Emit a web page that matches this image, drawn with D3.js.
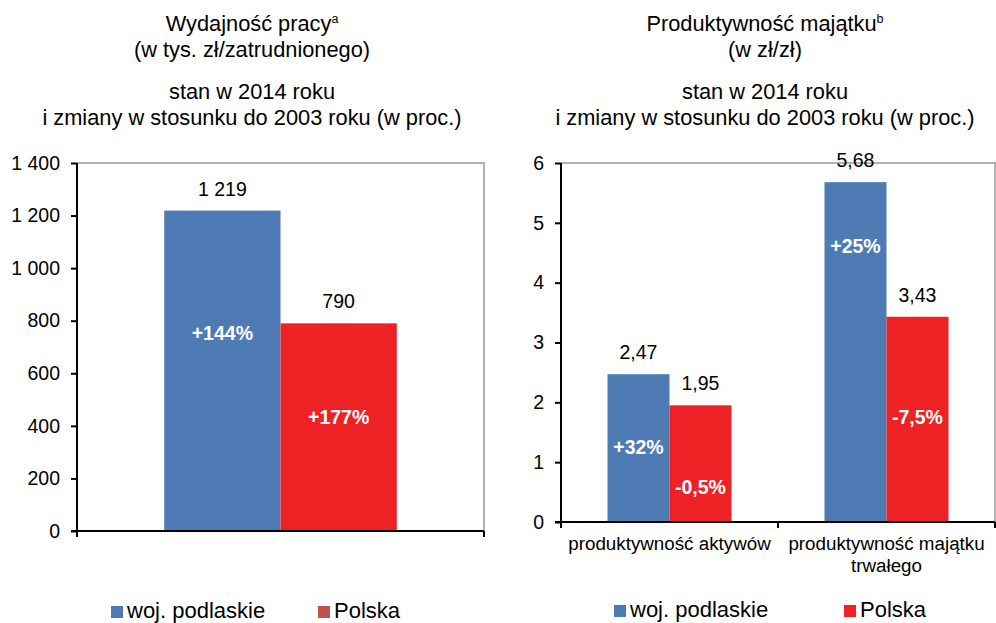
<!DOCTYPE html>
<html>
<head>
<meta charset="utf-8">
<script src="https://cdnjs.cloudflare.com/ajax/libs/d3/7.8.5/d3.min.js"></script>
<style>
  body { margin: 0; background: #fff; }
  text { font-family: "Liberation Sans", Arial, sans-serif; fill: #000; }
</style>
</head>
<body>
<script>
// --- data ---
var seriesNames = ["woj. podlaskie", "Polska"];

var leftCats = ["wydajność"];
var leftPodlaskie = [1219];
var leftPolska = [790];
var leftChgPodlaskie = ["+144%"];
var leftChgPolska = ["+177%"];
var leftChgAtPodlaskie = [755];   // where the change label sits (in axis units)
var leftChgAtPolska = [434];
var leftTicks = [0, 200, 400, 600, 800, 1000, 1200, 1400];

var rightCats = ["produktywność aktywów", "produktywność majątku trwałego"];
var rightCatLines = [["produktywność aktywów"], ["produktywność majątku", "trwałego"]];
var rightPodlaskie = [2.47, 5.68];
var rightPolska = [1.95, 3.43];
var rightChgPodlaskie = ["+32%", "+25%"];
var rightChgPolska = ["-0,5%", "-7,5%"];
var rightChgAtPodlaskie = [1.25, 4.61];
var rightChgAtPolska = [0.58, 1.75];
var rightTicks = [0, 1, 2, 3, 4, 5, 6];

var blue = "#4e7bb4",
    red = "#ee2224",
    legendRedLeft = "#c0504d";

var pl = d3.formatLocale({decimal: ",", thousands: " ", grouping: [3], currency: ["", " zł"]});

var svg = d3.select("body").append("svg")
    .attr("width", 996)
    .attr("height", 623);

function drawPanel(opt) {
    var g = svg.append("g");

    var x = d3.scaleBand().domain(opt.cats).range([opt.x0, opt.x1]).padding(0);
    var xs = d3.scaleBand().domain(seriesNames).range([0, x.bandwidth()])
        .paddingInner(0).paddingOuter(0.75);
    var y = d3.scaleLinear().domain(opt.domain).range([opt.y0, opt.y1]);

    // plot border (grey), only top and right visible
    g.append("path")
        .attr("d", "M" + opt.x0 + "," + y(opt.domain[1]) + "H" + opt.x1 + "V" + opt.y0)
        .attr("fill", "none")
        .attr("stroke", "#b3b3b3")
        .attr("stroke-width", 2);

    var rows = opt.cats.map(function(c, i) {
        return [
            {cat: c, s: seriesNames[0], v: opt.a[i], chg: opt.chgA[i], at: opt.atA[i], color: blue},
            {cat: c, s: seriesNames[1], v: opt.b[i], chg: opt.chgB[i], at: opt.atB[i], color: red}
        ];
    }).flat();

    g.selectAll("rect.bar")
        .data(rows)
      .enter().append("rect")
        .attr("class", "bar")
        .attr("x", function(d) { return x(d.cat) + xs(d.s); })
        .attr("width", xs.bandwidth())
        .attr("y", function(d) { return y(d.v); })
        .attr("height", function(d) { return y(0) - y(d.v); })
        .attr("fill", function(d) { return d.color; });

    // values above bars
    g.selectAll("text.val")
        .data(rows)
      .enter().append("text")
        .attr("x", function(d) { return x(d.cat) + xs(d.s) + xs.bandwidth() / 2; })
        .attr("y", function(d) { return y(d.v) - 15; })
        .attr("text-anchor", "middle")
        .style("font-size", "19.5px")
        .text(function(d) { return opt.fmt(d.v); });

    // change labels inside bars
    g.selectAll("text.chg")
        .data(rows)
      .enter().append("text")
        .attr("x", function(d) { return x(d.cat) + xs(d.s) + xs.bandwidth() / 2; })
        .attr("y", function(d) { return y(d.at) + 7; })
        .attr("text-anchor", "middle")
        .style("font-size", "19.5px")
        .style("font-weight", "bold")
        .style("fill", "#fff")
        .text(function(d) { return d.chg; });

    // y axis
    var yAxis = d3.axisLeft(y)
        .tickValues(opt.ticks)
        .tickFormat(opt.tickFmt)
        .tickSize(6)
        .tickSizeOuter(0)
        .tickPadding(11);
    var ya = g.append("g")
        .attr("transform", "translate(" + opt.x0 + ",0)")
        .call(yAxis);
    ya.select(".domain").remove();
    ya.selectAll(".tick line").attr("stroke", "#000").attr("stroke-width", 2);
    ya.selectAll(".tick text")
        .style("font-size", "19.5px")
        .style("font-family", "'Liberation Sans', Arial, sans-serif")
        .attr("fill", "#000");

    g.append("line")
        .attr("x1", opt.x0).attr("x2", opt.x0)
        .attr("y1", y(opt.domain[1])).attr("y2", opt.y0 + 1)
        .attr("stroke", "#000").attr("stroke-width", 2);

    // x axis with ticks on category boundaries
    g.append("line")
        .attr("x1", opt.x0 - 6).attr("x2", opt.x1)
        .attr("y1", opt.y0).attr("y2", opt.y0)
        .attr("stroke", "#000").attr("stroke-width", 2);
    var bounds = opt.cats.map(function(c) { return x(c); }).concat([opt.x1]);
    g.selectAll("line.xt")
        .data(bounds)
      .enter().append("line")
        .attr("x1", function(d) { return d; })
        .attr("x2", function(d) { return d; })
        .attr("y1", opt.y0)
        .attr("y2", opt.y0 + 6)
        .attr("stroke", "#000").attr("stroke-width", 2);

    if (opt.catLines) {
        opt.cats.forEach(function(c, i) {
            var t = g.append("text")
                .attr("x", x(c) + x.bandwidth() / 2)
                .attr("y", opt.y0 + 28)
                .attr("text-anchor", "middle")
                .style("font-size", "18.8px");
            opt.catLines[i].forEach(function(line, j) {
                t.append("tspan")
                    .attr("x", x(c) + x.bandwidth() / 2)
                    .attr("dy", j === 0 ? 0 : 22)
                    .text(line);
            });
        });
    }

    // titles
    var tt = g.append("text")
        .attr("x", opt.tx).attr("y", 31)
        .attr("text-anchor", "middle")
        .style("font-size", "21.8px");
    tt.append("tspan").text(opt.title);
    tt.append("tspan").attr("dy", -8).style("font-size", "12.5px").text(opt.sup);
    g.append("text")
        .attr("x", opt.tx).attr("y", 57)
        .attr("text-anchor", "middle")
        .style("font-size", "21.8px")
        .text(opt.unit);
    g.append("text")
        .attr("x", opt.tx).attr("y", 99)
        .attr("text-anchor", "middle")
        .style("font-size", "21.8px")
        .text("stan w 2014 roku");
    g.append("text")
        .attr("x", opt.tx).attr("y", 125)
        .attr("text-anchor", "middle")
        .style("font-size", "21.8px")
        .text("i zmiany w stosunku do 2003 roku (w proc.)");

    // legend
    var leg = g.selectAll("g.leg")
        .data(seriesNames)
      .enter().append("g")
        .attr("transform", function(d, i) { return "translate(" + opt.legX[i] + "," + opt.legY + ")"; });
    leg.append("rect")
        .attr("width", 12).attr("height", 12)
        .attr("y", -12)
        .attr("fill", function(d, i) { return opt.legColors[i]; });
    leg.append("text")
        .attr("x", 16)
        .attr("y", 0)
        .style("font-size", "22px")
        .text(function(d) { return d; });
}

drawPanel({
    cats: leftCats, a: leftPodlaskie, b: leftPolska,
    chgA: leftChgPodlaskie, chgB: leftChgPolska,
    atA: leftChgAtPodlaskie, atB: leftChgAtPolska,
    x0: 77, x1: 484, y0: 531, y1: 163, domain: [0, 1400],
    ticks: leftTicks,
    tickFmt: pl.format(",d"),
    fmt: pl.format(",d"),
    tx: 252, title: "Wydajność pracy", sup: "a", unit: "(w tys. zł/zatrudnionego)",
    legX: [111, 318], legY: 618, legColors: [blue, legendRedLeft]
});

drawPanel({
    cats: rightCats, catLines: rightCatLines, a: rightPodlaskie, b: rightPolska,
    chgA: rightChgPodlaskie, chgB: rightChgPolska,
    atA: rightChgAtPodlaskie, atB: rightChgAtPolska,
    x0: 561, x1: 995, y0: 522, y1: 163, domain: [0, 6],
    ticks: rightTicks,
    tickFmt: pl.format("d"),
    fmt: pl.format(".2f"),
    tx: 765, title: "Produktywność majątku", sup: "b", unit: "(w zł/zł)",
    legX: [614, 844], legY: 617, legColors: [blue, red]
});
</script>
</body>
</html>
